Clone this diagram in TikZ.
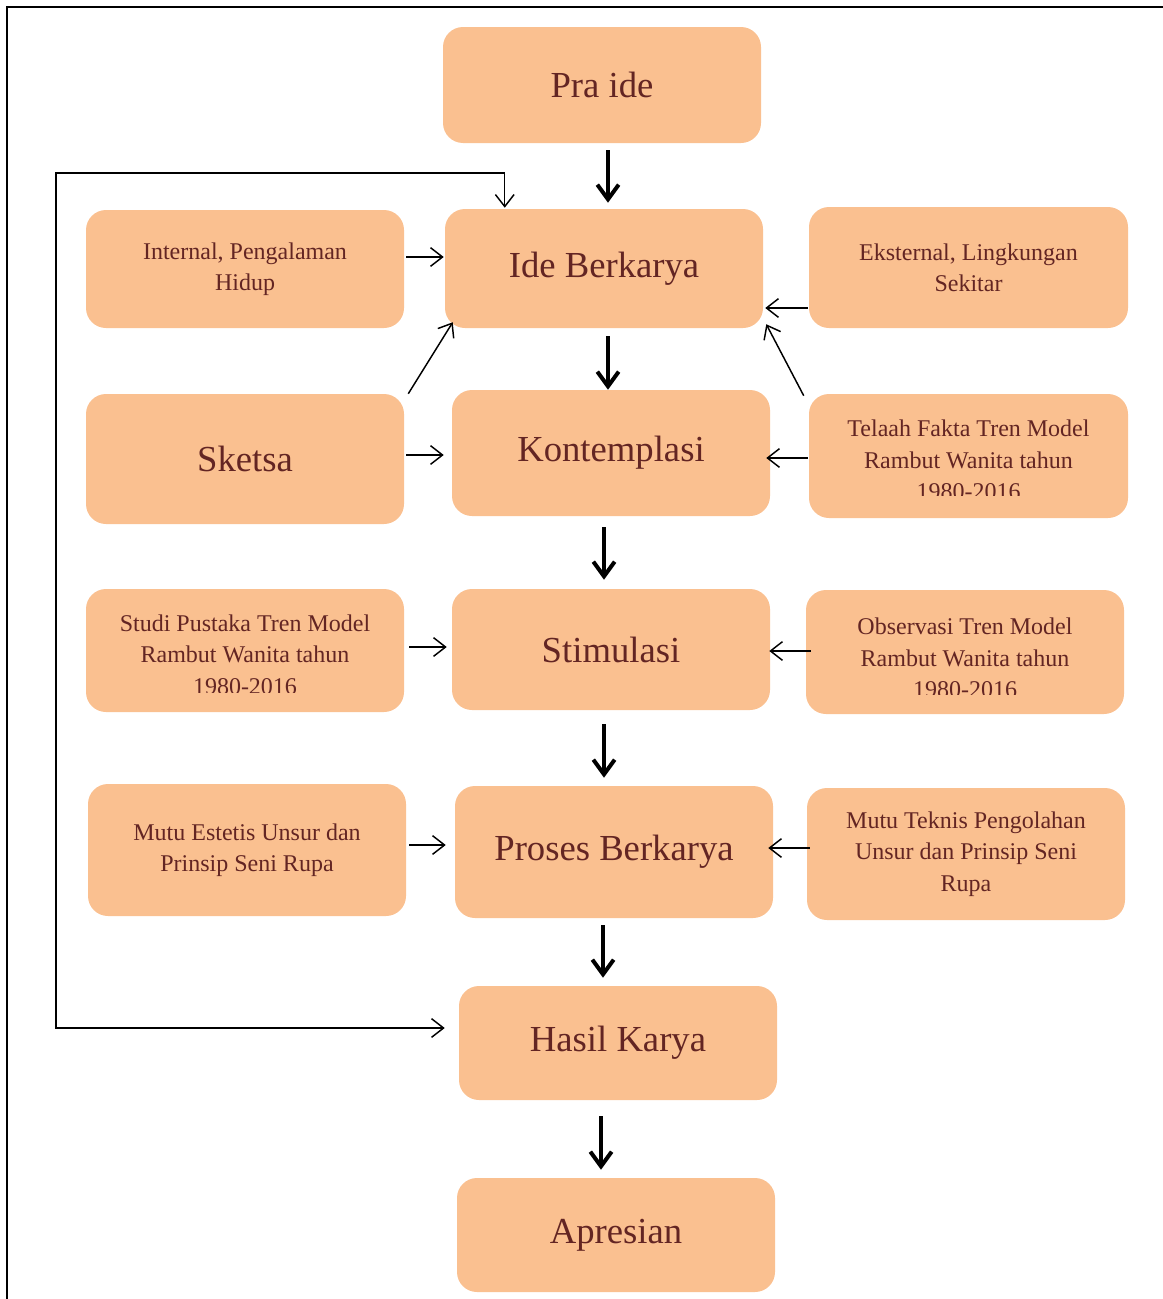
\documentclass[tikz,border=0pt]{standalone}
\usepackage{fontspec}
\setmainfont{Liberation Serif}
\usetikzlibrary{arrows.meta,calc}
\definecolor{boxfill}{RGB}{250,192,144}
\definecolor{boxtext}{RGB}{99,37,35}
\tikzset{
  box/.style={fill=boxfill, rounded corners=15pt, minimum width=238.5pt, inner sep=0pt, align=center, text=boxtext},
  bigtext/.style={font=\fontsize{27.5}{33}\selectfont},
  smalltext/.style={font=\fontsize{18}{23.5}\selectfont},
  bigarrow/.style={line width=3pt, -{Straight Barb[length=11pt,width=16pt]}},
  thinarrow/.style={line width=1.1pt, -{Straight Barb[length=9pt,width=14pt]}},
  fbarrow/.style={line width=1.1pt, {Straight Barb[length=9pt,width=14pt]}-{Straight Barb[length=9pt,width=14pt]}},
}

\begin{document}
\begin{tikzpicture}[x=0.75pt,y=0.75pt,yscale=-1,xscale=1]
\useasboundingbox (0,0) rectangle (1163,1299);

%Frame
\draw[line width=1.2pt] (7,1299) -- (7,7) -- (1163,7);

%Middle column
\node[box, bigtext, minimum height=87pt] (praide) at (602,85) {Pra ide};
\node[box, bigtext, minimum height=89.25pt] (ide) at (604,268.5) {Ide Berkarya};
\node[box, bigtext, minimum height=94.5pt] (kontemplasi) at (611,453) {Kontemplasi};
\node[box, bigtext, minimum height=90.75pt] (stimulasi) at (611,649.5) {Stimulasi};
\node[box, bigtext, minimum height=99pt] (proses) at (614,852) {Proses Berkarya};
\node[box, bigtext, minimum height=85.5pt] (hasil) at (618,1043) {Hasil Karya};
\node[box, bigtext, minimum height=85.5pt] (apresian) at (616,1235) {Apresian};

%Left column
\node[box, smalltext, minimum height=88.5pt] (internal) at (245,269) {Internal, Pengalaman\\Hidup};
\node[box, bigtext, minimum height=97.5pt] (sketsa) at (245,459) {Sketsa};
\node[box, minimum height=92.25pt] (studi) at (245,650.5) {};
\node[box, smalltext, minimum height=99pt] (estetis) at (247,850) {Mutu Estetis Unsur dan\\Prinsip Seni Rupa};

%Right column
\node[box, smalltext, minimum width=239.25pt, minimum height=90.75pt] (eksternal) at (968.5,267.5) {Eksternal, Lingkungan\\Sekitar};
\node[box, minimum width=239.25pt, minimum height=93pt] (telaah) at (968.5,456) {};
\node[box, minimum height=93pt] (observasi) at (965,652) {};
\node[box, smalltext, minimum height=99pt] (teknis) at (966,854) {Mutu Teknis Pengolahan\\Unsur dan Prinsip Seni\\Rupa};

% Text Node (cut off at the bottom)
\begin{scope}
\clip (telaah.north west) rectangle ($(telaah.south east)+(0,-23)$);
\node[smalltext, text=boxtext, align=center] (telaahtext) at ($(telaah)+(0,4)$) {Telaah Fakta Tren Model\\Rambut Wanita tahun\\1980-2016};
\end{scope}
\begin{scope}
\clip (studi.north west) rectangle ($(studi.south east)+(0,-20)$);
\node[smalltext, text=boxtext, align=center] (studitext) at ($(studi)+(0,4)$) {Studi Pustaka Tren Model\\Rambut Wanita tahun\\1980-2016};
\end{scope}
\begin{scope}
\clip (observasi.north west) rectangle ($(observasi.south east)+(0,-20)$);
\node[smalltext, text=boxtext, align=center] (observasitext) at ($(observasi)+(0,6)$) {Observasi Tren Model\\Rambut Wanita tahun\\1980-2016};
\end{scope}

%Main flow
\draw[bigarrow] ($(praide.south)+(6,7)$) -- ($(ide.north)+(4,-6)$);
\draw[bigarrow] ($(ide.south)+(4,8)$) -- ($(kontemplasi.north)+(-3,0)$);
\draw[bigarrow] ($(kontemplasi.south)+(-7,11)$) -- ($(stimulasi.north)+(-7,-9)$);
\draw[bigarrow] ($(stimulasi.south)+(-7,14)$) -- ($(proses.north)+(-10,-8)$);
\draw[bigarrow] ($(proses.south)+(-11,7)$) -- ($(hasil.north)+(-15,-8)$);
\draw[bigarrow] ($(hasil.south)+(-17,16)$) -- ($(apresian.north)+(-15,-8)$);

%Inputs from the left
\draw[thinarrow] ($(internal.east)+(2,-12)$) -- ($(ide.west)+(-1,-11.5)$);
\draw[thinarrow] ($(sketsa.north east)+(4,0)$) -- ($(ide.south west)+(8,-6)$);
\draw[thinarrow] ($(sketsa.east)+(2,-4)$) -- ($(kontemplasi.west)+(-8,2)$);
\draw[thinarrow] ($(studi.east)+(5,-3.5)$) -- ($(stimulasi.west)+(-5,-2.5)$);
\draw[thinarrow] ($(estetis.east)+(3,-5)$) -- ($(proses.west)+(-9,-7)$);

%Inputs from the right
\draw[thinarrow] ($(eksternal.west)+(-1,40.5)$) -- ($(ide.east)+(2,39.5)$);
\draw[thinarrow] ($(telaah.north west)+(-5,2)$) -- ($(ide.south east)+(3,-4)$);
\draw[thinarrow] ($(telaah.west)+(-1,2)$) -- ($(kontemplasi.east)+(-4,5)$);
\draw[thinarrow] ($(observasi.west)+(5,-1)$) -- ($(stimulasi.east)+(-1,1.5)$);
\draw[thinarrow] ($(teknis.west)+(3,-6)$) -- ($(proses.east)+(-5,-4)$);

%Feedback
\coordinate (fb) at (56,173);
\draw[fbarrow] ($(hasil.west)+(-14,-15)$) -| (fb) -| ($(ide.north west)+(60,-1)$);

\end{tikzpicture}
\end{document}
